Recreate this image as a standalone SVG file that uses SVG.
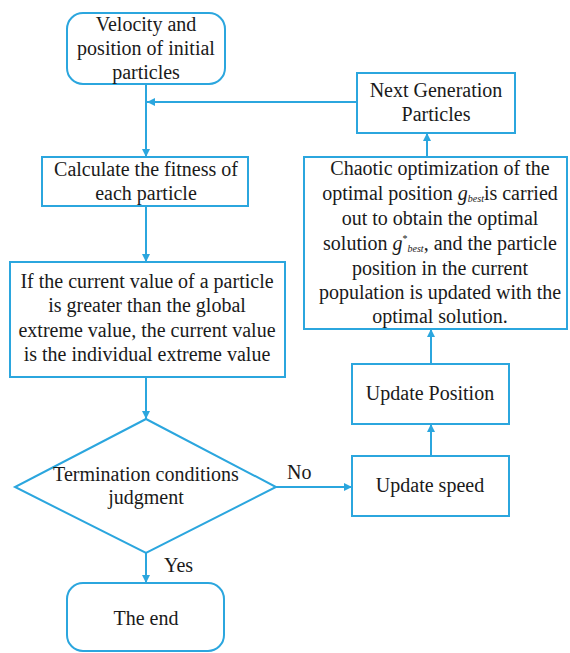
<svg xmlns="http://www.w3.org/2000/svg" width="570" height="653" viewBox="0 0 570 653">
<style>
.b{fill:#fff;stroke:#2BA6DE;stroke-width:2}
.t{font-family:'Liberation Serif','Times New Roman',serif;font-size:20px;fill:#1a1a1a;text-anchor:middle}
.l{font-family:'Liberation Serif','Times New Roman',serif;font-size:20px;fill:#1a1a1a}
.c{fill:none;stroke:#2BA6DE;stroke-width:2}
.m{font-style:italic}
</style>
<defs>
<marker id="a" viewBox="0 0 10 10" refX="10" refY="5" markerWidth="9" markerHeight="8" markerUnits="userSpaceOnUse" orient="auto">
<path d="M0,0L10,5L0,10z" fill="#2BA6DE"/>
</marker>
</defs>
<rect width="570" height="653" fill="#fff"/>
<g id="connectors">
<path class="c" d="M146,84V157" marker-end="url(#a)"/>
<path class="c" d="M357,102H147" marker-end="url(#a)"/>
<path class="c" d="M146,206V262" marker-end="url(#a)"/>
<path class="c" d="M146,377V419" marker-end="url(#a)"/>
<path class="c" d="M276,487H352" marker-end="url(#a)"/>
<path class="c" d="M431,456V424" marker-end="url(#a)"/>
<path class="c" d="M431,364V329" marker-end="url(#a)"/>
<path class="c" d="M427,157V133" marker-end="url(#a)"/>
<path class="c" d="M146,553V583" marker-end="url(#a)"/>
<text class="l" x="287" y="479">No</text>
<text class="l" x="164" y="572">Yes</text>
</g>
<g id="start">
<rect class="b" x="67" y="13" width="158" height="71" rx="16"/>
<text class="t" x="146" y="31">Velocity and</text>
<text class="t" x="146" y="55">position of initial</text>
<text class="t" x="146" y="79">particles</text>
</g>
<g id="fitness">
<rect class="b" x="42" y="157" width="206" height="49"/>
<text class="t" x="146" y="176">Calculate the fitness of</text>
<text class="t" x="146" y="200">each particle</text>
</g>
<g id="extreme">
<rect class="b" x="10" y="262" width="275" height="115"/>
<text class="t" x="147" y="288">If the current value of a particle</text>
<text class="t" x="147" y="312">is greater than the global</text>
<text class="t" x="147" y="337">extreme value, the current value</text>
<text class="t" x="147" y="361">is the individual extreme value</text>
</g>
<g id="judge">
<path class="b" d="M146,419L276,487L146,553L15,487z"/>
<text class="t" x="146" y="481">Termination conditions</text>
<text class="t" x="146" y="504">judgment</text>
</g>
<g id="end">
<rect class="b" x="67" y="583" width="157" height="68" rx="16"/>
<text class="t" x="146" y="625">The end</text>
</g>
<g id="speed">
<rect class="b" x="352" y="456" width="157" height="60"/>
<text class="t" x="430" y="492">Update speed</text>
</g>
<g id="position">
<rect class="b" x="352" y="364" width="157" height="60"/>
<text class="t" x="430" y="400">Update Position</text>
</g>
<g id="chaotic">
<rect class="b" x="304" y="157" width="263" height="172"/>
<text class="t" x="440" y="175">Chaotic optimization of the</text>
<text class="t" x="440" y="200">optimal position  <tspan class="m">g</tspan><tspan class="m" font-size="10" dy="2">best</tspan><tspan dy="-2">is carried</tspan></text>
<text class="t" x="440" y="225">out to obtain the optimal</text>
<text class="t" x="440" y="250">solution <tspan class="m">g</tspan><tspan font-size="10" dy="-8">*</tspan><tspan class="m" font-size="10" dy="10">best</tspan><tspan dy="-2">, and the particle</tspan></text>
<text class="t" x="440" y="275">position in the current</text>
<text class="t" x="440" y="299">population is updated with the</text>
<text class="t" x="440" y="323">optimal solution.</text>
</g>
<g id="next">
<rect class="b" x="357" y="73" width="158" height="60"/>
<text class="t" x="436" y="97">Next Generation</text>
<text class="t" x="436" y="121">Particles</text>
</g>
</svg>
